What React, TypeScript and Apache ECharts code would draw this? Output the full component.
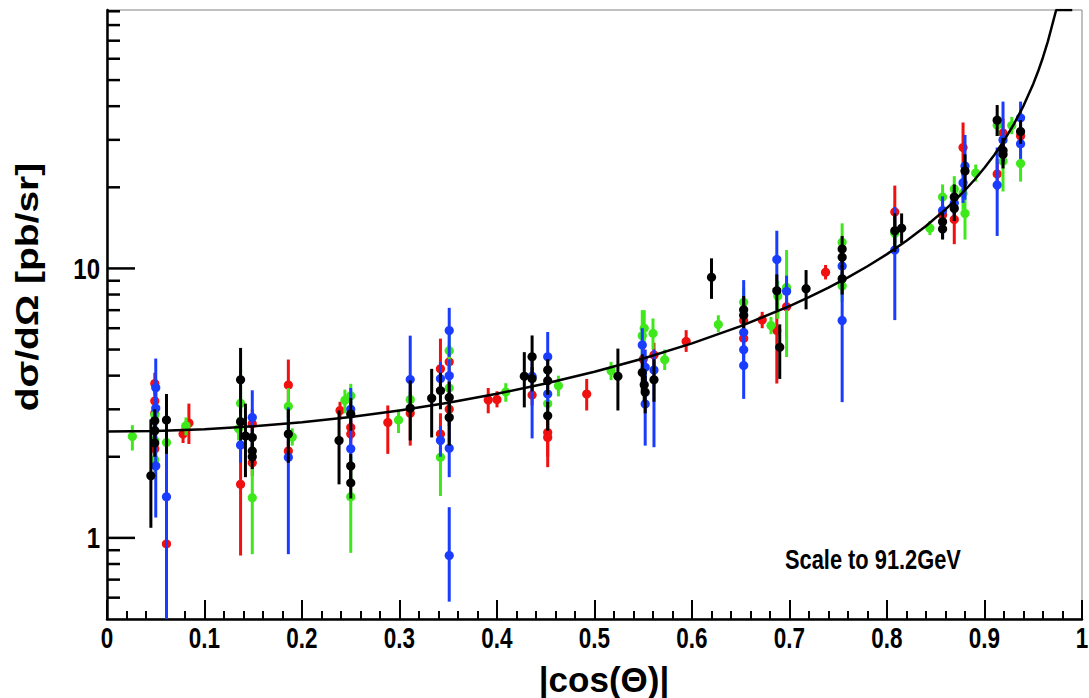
import React, { useEffect, useRef } from "react";
import * as echarts from "echarts";

// ---- axis settings / labels ----
const X_MIN = 0;
const X_MAX = 1;
const Y_MIN = 0.5;
const Y_MAX = 91;
const X_TITLE = "|cos(Θ)|";
const Y_TITLE = "dσ/dΩ [pb/sr]";
const NOTE = "Scale to 91.2GeV";
const X_LABEL_VALUES = [0, 0.1, 0.2, 0.3, 0.4, 0.5, 0.6, 0.7, 0.8, 0.9, 1];
const X_LABELS = ["0", "0.1", "0.2", "0.3", "0.4", "0.5", "0.6", "0.7", "0.8", "0.9", "1"];
const Y_LABEL_VALUES = [1, 10];
const Y_LABELS = ["1", "10"];
const Y_MAJOR_TICKS = [1, 10];
const Y_MINOR_TICKS = [0.6, 0.7, 0.8, 0.9, 2, 3, 4, 5, 6, 7, 8, 9, 20, 30, 40, 50, 60, 70, 80, 90];

// ---- fitted model: N * (1 + x^2) / (1 - x^2) ----
const FIT_NORM = 2.48;
const FIT_X = [
  0, 0.05, 0.1, 0.15, 0.2, 0.25, 0.3, 0.35, 0.4, 0.45, 0.5, 0.55, 0.6, 0.65, 0.7, 0.72, 0.74, 0.76, 0.78,
  0.8, 0.82, 0.84, 0.86, 0.87, 0.88, 0.89, 0.9, 0.91, 0.92, 0.93, 0.94, 0.95, 0.955, 0.96, 0.965, 0.97,
  0.9735, 0.98, 0.99,
];

// ---- data points: [|cos|, value, low, high] ----
const BLACK = [
  [0.045, 1.7, 1.09, 2.75], [0.049, 2.72, 2.45, 3.0], [0.049, 2.5, 2.25, 2.75], [0.049, 2.25, 2.0, 2.5],
  [0.061, 2.74, 2.05, 3.42],
  [0.137, 3.86, 2.9, 5.07], [0.137, 2.7, 2.3, 3.1], [0.142, 2.39, 1.68, 3.15],
  [0.149, 2.36, 2.1, 2.6], [0.149, 2.1, 1.9, 2.3], [0.149, 2.0, 1.8, 2.2],
  [0.186, 2.43, 1.9, 3.0],
  [0.238, 2.3, 1.58, 2.97],
  [0.25, 2.88, 2.5, 3.3], [0.25, 1.85, 1.65, 2.05], [0.25, 1.6, 1.4, 1.8],
  [0.311, 3.03, 2.3, 3.84], [0.333, 3.3, 2.36, 4.24], [0.342, 3.52, 3.0, 4.1],
  [0.351, 3.32, 2.9, 3.8], [0.351, 2.8, 2.2, 3.4],
  [0.428, 3.98, 3.05, 4.89], [0.436, 4.7, 3.9, 5.64], [0.436, 3.9, 3.5, 4.3],
  [0.452, 4.2, 3.8, 4.6], [0.452, 3.83, 3.4, 4.2], [0.452, 2.84, 2.5, 3.2],
  [0.524, 3.98, 2.97, 5.04],
  [0.549, 4.11, 3.5, 4.8], [0.551, 3.7, 3.2, 4.2], [0.552, 3.47, 2.9, 4.0], [0.561, 3.86, 3.2, 4.6],
  [0.62, 9.27, 7.71, 10.9],
  [0.653, 7.02, 6.2, 7.9], [0.653, 6.7, 6.0, 7.4],
  [0.687, 8.27, 7.0, 9.5], [0.69, 5.1, 3.89, 6.2],
  [0.717, 8.41, 7.05, 9.86],
  [0.754, 11.8, 10.5, 13.2], [0.754, 11.0, 10.0, 12.0], [0.754, 9.15, 8.0, 10.3],
  [0.808, 13.8, 11.5, 16.0], [0.815, 14.1, 12.4, 16.0],
  [0.857, 14.9, 13.5, 16.2], [0.857, 14.0, 12.8, 15.2],
  [0.869, 18.4, 16.5, 20.5], [0.869, 16.7, 15.0, 18.5],
  [0.88, 23.0, 19.5, 26.5],
  [0.913, 35.5, 31.0, 40.4], [0.919, 27.4, 24.5, 30.5], [0.919, 26.5, 23.5, 29.5],
  [0.937, 32.2, 29.0, 35.5],
];

const RED = [
  [0.049, 3.74, 3.4, 4.1], [0.049, 3.22, 2.9, 3.55], [0.049, 2.9, 2.6, 3.2], [0.049, 2.14, 1.9, 2.4],
  [0.061, 0.95, 0.9, 1.0],
  [0.078, 2.43, 2.25, 2.62], [0.084, 2.67, 2.23, 3.15],
  [0.137, 1.58, 0.86, 2.2], [0.149, 2.65, 2.3, 3.0], [0.149, 1.9, 1.7, 2.1],
  [0.186, 3.69, 2.8, 4.59], [0.186, 2.1, 1.9, 2.3],
  [0.239, 2.97, 2.75, 3.2],
  [0.25, 2.57, 2.3, 2.9], [0.25, 2.43, 2.2, 2.7],
  [0.288, 2.68, 2.05, 3.1], [0.311, 2.9, 2.2, 3.3],
  [0.342, 4.24, 3.6, 5.49], [0.342, 2.43, 2.0, 2.9],
  [0.351, 4.5, 3.9, 5.2], [0.351, 3.0, 2.6, 3.4],
  [0.391, 3.25, 2.9, 3.6], [0.4, 3.26, 3.05, 3.5],
  [0.436, 3.39, 3.1, 3.7],
  [0.452, 2.46, 2.0, 2.9], [0.452, 2.36, 1.83, 2.8],
  [0.492, 3.42, 2.97, 3.89],
  [0.55, 4.6, 4.0, 5.2], [0.561, 4.77, 4.3, 5.3],
  [0.594, 5.36, 4.9, 5.9],
  [0.653, 6.41, 5.8, 7.0], [0.653, 5.5, 5.0, 6.0],
  [0.672, 6.44, 6.0, 6.9],
  [0.687, 5.88, 3.74, 7.0], [0.697, 7.21, 5.5, 8.5],
  [0.737, 9.67, 9.1, 10.3],
  [0.808, 16.2, 12.5, 20.3],
  [0.857, 15.8, 14.5, 17.2], [0.869, 15.2, 12.3, 17.0],
  [0.878, 28.1, 22.0, 34.8],
  [0.919, 31.8, 27.5, 36.0], [0.913, 22.4, 19.5, 25.5],
  [0.937, 31.0, 28.5, 33.5],
];

const BLUE = [
  [0.05, 3.61, 2.9, 4.63], [0.05, 3.03, 2.5, 3.6], [0.05, 1.85, 1.19, 2.5],
  [0.061, 1.42, 0.5, 2.05],
  [0.137, 2.21, 1.9, 2.5], [0.149, 2.8, 2.1, 3.53],
  [0.186, 1.99, 0.87, 3.05],
  [0.25, 3.0, 2.4, 3.6], [0.25, 2.14, 1.9, 2.4],
  [0.311, 3.87, 3.0, 5.63],
  [0.342, 3.9, 3.3, 4.5], [0.342, 2.3, 2.0, 2.6],
  [0.351, 5.88, 4.7, 7.14], [0.351, 4.0, 3.4, 4.6], [0.351, 2.15, 1.68, 2.9], [0.351, 0.86, 0.58, 1.3],
  [0.436, 3.98, 2.34, 4.7],
  [0.452, 4.7, 3.9, 5.81], [0.452, 3.42, 3.0, 3.8],
  [0.549, 5.2, 4.4, 6.0], [0.552, 4.3, 3.6, 5.0], [0.552, 3.14, 2.2, 4.1], [0.561, 4.2, 2.17, 5.0],
  [0.653, 5.79, 4.9, 9.05], [0.653, 4.99, 4.5, 5.5], [0.653, 4.36, 3.28, 5.2],
  [0.687, 10.8, 8.3, 13.8], [0.697, 8.22, 7.0, 9.4],
  [0.754, 10.2, 9.0, 11.5], [0.754, 6.41, 3.19, 9.7],
  [0.808, 11.7, 6.43, 16.9],
  [0.857, 16.4, 12.9, 18.5], [0.869, 17.5, 15.5, 19.5],
  [0.88, 24.0, 18.0, 31.3], [0.878, 20.8, 17.5, 24.0],
  [0.919, 30.0, 25.0, 41.6], [0.913, 20.4, 13.2, 28.1],
  [0.937, 36.2, 32.0, 41.6], [0.937, 29.0, 25.5, 32.5],
];

const GREEN = [
  [0.026, 2.38, 2.11, 2.62],
  [0.049, 2.86, 2.6, 3.1], [0.049, 2.3, 2.1, 2.5], [0.049, 1.95, 1.75, 2.15],
  [0.061, 2.26, 2.0, 2.5],
  [0.081, 2.61, 2.4, 2.8],
  [0.137, 3.16, 2.6, 4.25], [0.135, 2.54, 2.3, 2.8],
  [0.149, 1.41, 0.87, 2.1],
  [0.186, 3.08, 2.5, 3.6], [0.19, 2.37, 2.2, 2.55],
  [0.244, 3.24, 2.9, 3.55],
  [0.25, 3.37, 2.9, 3.73], [0.25, 1.42, 0.88, 2.0],
  [0.299, 2.74, 2.45, 3.0], [0.311, 3.26, 3.0, 3.5],
  [0.342, 1.99, 1.43, 2.5],
  [0.351, 4.95, 4.2, 5.8], [0.351, 3.6, 3.2, 4.0],
  [0.409, 3.48, 3.2, 3.75],
  [0.452, 3.15, 2.8, 3.5], [0.463, 3.67, 3.35, 4.0],
  [0.517, 4.17, 3.85, 4.5],
  [0.549, 5.63, 4.8, 7.0], [0.551, 6.0, 5.3, 7.0], [0.56, 5.74, 5.0, 6.52],
  [0.572, 4.58, 4.2, 5.0],
  [0.627, 6.19, 5.8, 6.7],
  [0.653, 7.49, 6.8, 8.5],
  [0.681, 6.14, 5.7, 6.6], [0.688, 7.9, 6.5, 9.0], [0.697, 8.5, 4.69, 11.7],
  [0.754, 12.5, 10.5, 14.7], [0.754, 8.6, 7.5, 9.6],
  [0.808, 13.5, 12.0, 15.0],
  [0.844, 14.1, 13.3, 15.0],
  [0.857, 18.4, 16.0, 20.5], [0.869, 19.7, 17.5, 22.0],
  [0.878, 19.0, 16.5, 21.5], [0.88, 16.0, 12.8, 18.5],
  [0.891, 22.6, 21.0, 24.3],
  [0.913, 34.0, 31.0, 37.0], [0.919, 25.0, 19.3, 28.0],
  [0.928, 33.9, 31.5, 36.5],
  [0.937, 24.5, 21.0, 27.5],
];

const COLORS = { black: "#000000", red: "#f01010", blue: "#1a3cff", green: "#3ee81a" };
const FONT = "Liberation Sans";

function errorSeries(name: string, data: number[][], color: string, z: number) {
  return {
    name,
    type: "custom",
    z,
    data,
    encode: { x: 0, y: [1, 2, 3] },
    renderItem: (_params: any, api: any) => {
      const x = api.value(0);
      const p = api.coord([x, api.value(1)]);
      const pl = api.coord([x, api.value(2)]);
      const ph = api.coord([x, api.value(3)]);
      return {
        type: "group",
        children: [
          {
            type: "line",
            shape: { x1: pl[0], y1: pl[1], x2: ph[0], y2: ph[1] },
            style: { stroke: color, lineWidth: 3 },
          },
          { type: "circle", shape: { cx: p[0], cy: p[1], r: 4.6 }, style: { fill: color } },
        ],
      };
    },
  };
}

export default function App() {
  const ref = useRef<HTMLDivElement>(null);

  useEffect(() => {
    if (!ref.current) return;
    const chart = echarts.init(ref.current, null, { renderer: "svg" });

    const fitData = FIT_X.map((x) => [x, Math.min(Y_MAX, (FIT_NORM * (1 + x * x)) / (1 - x * x))]);
    const yTicks = [
      ...Y_MAJOR_TICKS.map((v) => [X_MIN, v, 28]),
      ...Y_MINOR_TICKS.map((v) => [X_MIN, v, 13]),
    ];
    const xLabelData = X_LABEL_VALUES.map((v) => [v, Y_MIN]);
    const yLabelData = Y_LABEL_VALUES.map((v) => [X_MIN, v]);

    chart.setOption({
      animation: false,
      backgroundColor: "#ffffff",
      grid: {
        left: 107,
        right: 7,
        top: 10,
        bottom: 79,
        show: true,
        borderColor: "#808080",
        borderWidth: 1,
      },
      xAxis: {
        type: "value",
        min: X_MIN,
        max: X_MAX,
        interval: 0.1,
        axisLine: { show: true, onZero: false, lineStyle: { color: "#000", width: 2.5 } },
        axisTick: { show: true, inside: true, length: 19, lineStyle: { color: "#000", width: 2 } },
        minorTick: { show: true, splitNumber: 5, length: 8, lineStyle: { color: "#000", width: 2 } },
        axisLabel: { show: false },
        splitLine: { show: false },
      },
      yAxis: {
        type: "log",
        logBase: 10,
        min: Y_MIN,
        max: Y_MAX,
        axisLine: { show: true, onZero: false, lineStyle: { color: "#000", width: 2.5 } },
        axisTick: { show: false },
        minorTick: { show: false },
        splitLine: { show: false },
        axisLabel: { show: false },
      },
      graphic: [
        {
          type: "text",
          x: 785,
          y: 545,
          scaleX: 0.78,
          style: {
            text: NOTE,
            fontFamily: FONT,
            fontWeight: "bold",
            fontSize: 28,
            fill: "#000",
            textVerticalAlign: "top",
          },
        },
        {
          type: "text",
          x: 604,
          y: 679,
          style: {
            text: X_TITLE,
            fontFamily: FONT,
            fontWeight: "bold",
            fontSize: 35,
            fill: "#000",
            textAlign: "center",
            textVerticalAlign: "middle",
          },
        },
        {
          type: "text",
          x: 27,
          y: 287,
          rotation: Math.PI / 2,
          scaleY: 0.8,
          style: {
            text: Y_TITLE,
            fontFamily: FONT,
            fontWeight: "bold",
            fontSize: 39,
            fill: "#000",
            textAlign: "center",
            textVerticalAlign: "middle",
          },
        },
      ],
      series: [
        {
          name: "yticks",
          type: "custom",
          z: 10,
          silent: true,
          data: yTicks,
          encode: { x: 0, y: 1 },
          renderItem: (_params: any, api: any) => {
            const p = api.coord([api.value(0), api.value(1)]);
            const len = api.value(2);
            return {
              type: "line",
              shape: { x1: p[0], y1: p[1], x2: p[0] + len, y2: p[1] },
              style: { stroke: "#000", lineWidth: 2.5 },
            };
          },
        },
        {
          name: "xlabels",
          type: "custom",
          silent: true,
          data: xLabelData,
          encode: { x: 0, y: 1 },
          renderItem: (params: any, api: any) => {
            const p = api.coord([api.value(0), api.value(1)]);
            return {
              type: "text",
              x: p[0],
              y: p[1] + 4,
              scaleX: 0.75,
              style: {
                text: X_LABELS[params.dataIndex],
                fontFamily: FONT,
                fontWeight: "bold",
                fontSize: 30,
                fill: "#000",
                textAlign: "center",
                textVerticalAlign: "top",
              },
            };
          },
        },
        {
          name: "ylabels",
          type: "custom",
          silent: true,
          data: yLabelData,
          encode: { x: 0, y: 1 },
          renderItem: (params: any, api: any) => {
            const p = api.coord([api.value(0), api.value(1)]);
            return {
              type: "text",
              x: p[0] - 7,
              y: p[1],
              scaleX: 0.8,
              style: {
                text: Y_LABELS[params.dataIndex],
                fontFamily: FONT,
                fontWeight: "bold",
                fontSize: 30,
                fill: "#000",
                textAlign: "right",
                textVerticalAlign: "middle",
              },
            };
          },
        },
        errorSeries("red", RED, COLORS.red, 2),
        errorSeries("green", GREEN, COLORS.green, 3),
        errorSeries("blue", BLUE, COLORS.blue, 4),
        errorSeries("black", BLACK, COLORS.black, 5),
        {
          name: "fit",
          type: "line",
          z: 6,
          data: fitData,
          showSymbol: false,
          smooth: false,
          lineStyle: { color: "#000", width: 2.5 },
          clip: true,
        },
      ],
    });

    return () => chart.dispose();
  }, []);

  return (
    <div
      ref={ref}
      style={{ position: "absolute", left: 0, top: 0, width: 1089, height: 698, background: "#fff" }}
    />
  );
}
